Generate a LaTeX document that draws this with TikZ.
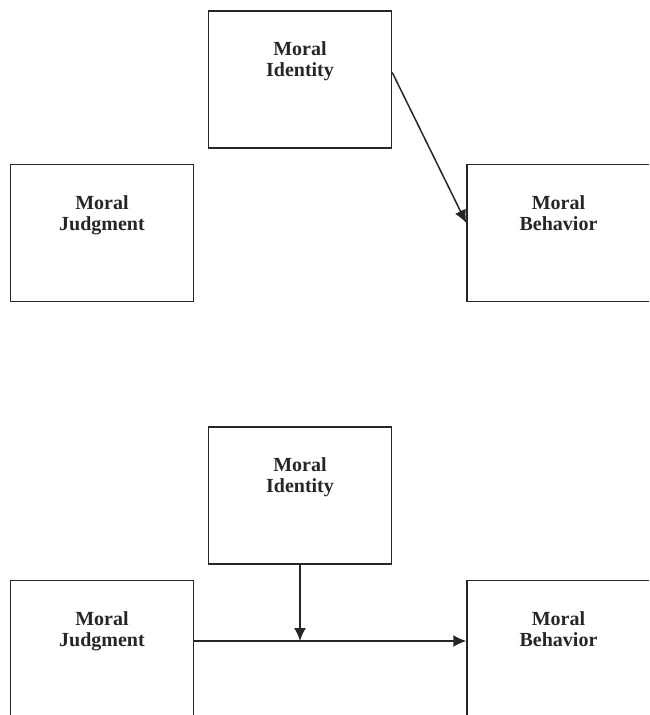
\documentclass[tikz,border=0pt]{standalone}
\usepackage{fontspec}
\setmainfont{Liberation Serif}
\usepackage{tikz}
\usetikzlibrary{arrows.meta}

\begin{document}
\begin{tikzpicture}[x=0.5pt,y=-0.5pt]
                \tikzstyle{box}=[draw=black!85,line width=0.75pt,minimum width=91.5pt,minimum height=68.5pt,inner sep=0pt]
                \tikzstyle{txt}=[anchor=north,align=center,inner sep=0pt,font=\fontsize{10}{10.5}\selectfont\bfseries,text=black!85]
                \tikzstyle{arr}=[draw=black!85,line width=0.75pt,-{Latex[length=6.5pt,width=6pt]}]
                \useasboundingbox (0,0) rectangle (649,715);
                \clip (0,0) rectangle (649,715);
                % upper model
                \node [box] (mi1) at (300,79.5) {};
                \node [txt] (mi1t) at ([yshift=-15.5pt]mi1.north) {Moral\\Identity};
                \node [box] (mj1) at (102,233) {};
                \node [txt] (mj1t) at ([yshift=-15.5pt]mj1.north) {Moral\\Judgment};
                \node [box,minimum width=100pt] (mb1) at (567,233) {};
                \node [txt] (mb1t) at ([xshift=-4.25pt,yshift=-15.5pt]mb1.north) {Moral\\Behavior};
                \draw [arr] ([yshift=3.5pt]mi1.east) -- ([yshift=5pt]mb1.west);
                % lower model
                \node [box] (mi2) at (300,495.5) {};
                \node [txt] (mi2t) at ([yshift=-15.5pt]mi2.north) {Moral\\Identity};
                \node [box] (mj2) at (102,649) {};
                \node [txt] (mj2t) at ([yshift=-15.5pt]mj2.north) {Moral\\Judgment};
                \node [box,minimum width=100pt] (mb2) at (567,649) {};
                \node [txt] (mb2t) at ([xshift=-4.25pt,yshift=-15.5pt]mb2.north) {Moral\\Behavior};
                \coordinate (hit) at ([yshift=4pt]mb2.west);
                \draw [arr] ([yshift=4pt]mj2.east) -- (hit);
                \draw [arr] (mi2.south) -- (mi2.south |- hit);
\end{tikzpicture}
\end{document}
